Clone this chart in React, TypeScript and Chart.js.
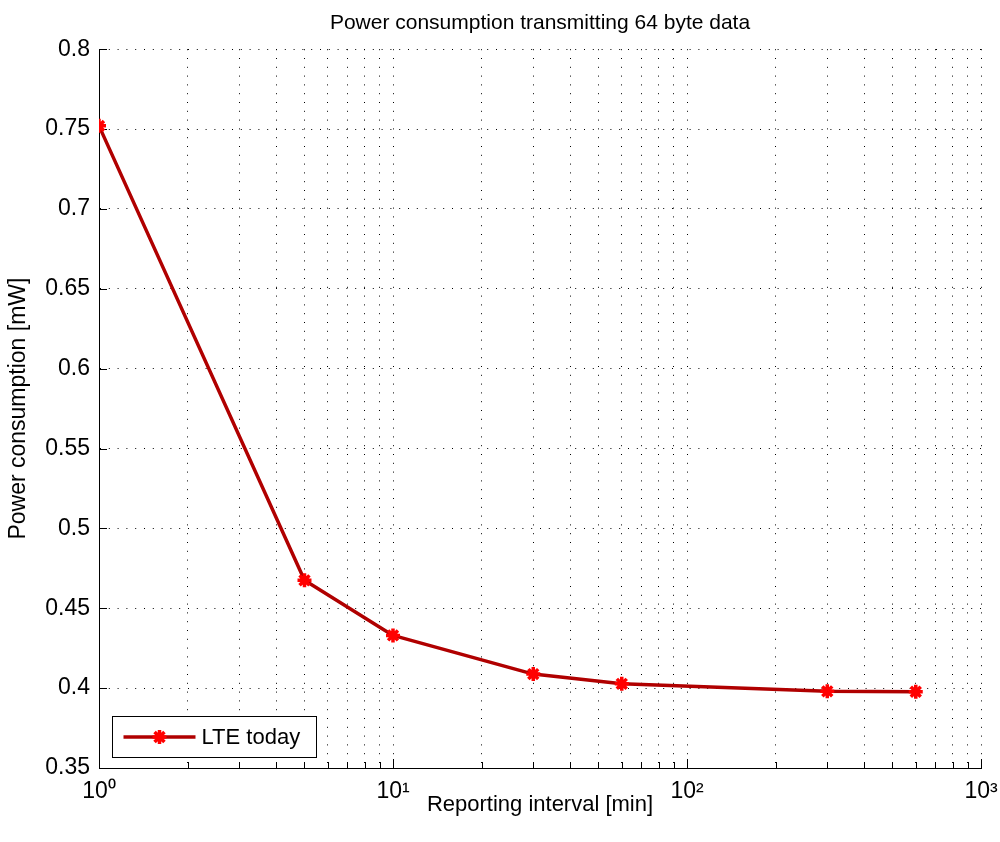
import React, { useEffect, useRef } from "react";
import { Chart, registerables } from "chart.js";

Chart.register(...registerables);

// ---- data ----
const chartTitle = "Power consumption transmitting 64 byte data";
const xAxisTitle = "Reporting interval [min]";
const yAxisTitle = "Power consumption [mW]";
const seriesLabel = "LTE today";
const reportingIntervals = [1, 5, 10, 30, 60, 300, 600];
const powerConsumption = [0.752, 0.4675, 0.433, 0.4088, 0.4027, 0.398, 0.3977];
const xTickValues = [
  1, 2, 3, 4, 5, 6, 7, 8, 9,
  10, 20, 30, 40, 50, 60, 70, 80, 90,
  100, 200, 300, 400, 500, 600, 700, 800, 900,
  1000,
];
const xMajorTickValues = [1, 10, 100, 1000];
const xMajorTickLabels = ["10⁰", "10¹", "10²", "10³"];
const yMin = 0.35;
const yMax = 0.8;
const yStep = 0.05;

// ---- style ----
const FONT = '"Liberation Sans", Arial, Helvetica, sans-serif';
const LINE_COLOR = "#b00000";
const MARKER_COLOR = "#ff0000";
const GRID_COLOR = "#000000";
const GRID_DASH = [1, 7.8];

const inwardTicks = {
  id: "inwardTicks",
  beforeDatasetsDraw(chart: any) {
    const { ctx, chartArea } = chart;
    const xs = chart.scales.x;
    const ys = chart.scales.y;
    ctx.save();
    ctx.strokeStyle = "#000";
    ctx.lineWidth = 1;
    ctx.beginPath();
    ys.ticks.forEach((t: any) => {
      const y = Math.round(ys.getPixelForValue(t.value)) + 0.5;
      ctx.moveTo(chartArea.left, y);
      ctx.lineTo(chartArea.left + 8, y);
    });
    xs.ticks.forEach((t: any) => {
      const x = Math.round(xs.getPixelForValue(t.value)) + 0.5;
      const len = xMajorTickValues.includes(t.value) ? 9 : 6;
      ctx.moveTo(x, chartArea.bottom);
      ctx.lineTo(x, chartArea.bottom - len);
    });
    ctx.stroke();
    ctx.restore();
  },
};

const insideLegend = {
  id: "insideLegend",
  afterDraw(chart: any) {
    const { ctx, chartArea } = chart;
    const ds = chart.data.datasets[0];
    const x0 = Math.round(chartArea.left + 13) + 0.5;
    const y1 = Math.round(chartArea.bottom - 11) + 0.5;
    const w = 204;
    const h = 41;
    const y0 = y1 - h;
    const cy = y0 + h / 2;
    ctx.save();
    ctx.fillStyle = "#ffffff";
    ctx.fillRect(x0, y0, w, h);
    ctx.strokeStyle = "#000";
    ctx.lineWidth = 1;
    ctx.strokeRect(x0, y0, w, h);
    ctx.strokeStyle = ds.borderColor;
    ctx.lineWidth = ds.borderWidth;
    ctx.beginPath();
    ctx.moveTo(x0 + 11, cy);
    ctx.lineTo(x0 + 83, cy);
    ctx.stroke();
    // marker (star)
    const mx = x0 + 47;
    const r = ds.pointRadius;
    ctx.strokeStyle = ds.pointBorderColor;
    ctx.lineWidth = ds.pointBorderWidth;
    ctx.beginPath();
    ctx.moveTo(mx, cy - r);
    ctx.lineTo(mx, cy + r);
    ctx.moveTo(mx - r, cy);
    ctx.lineTo(mx + r, cy);
    const d = r * Math.SQRT1_2;
    ctx.moveTo(mx - d, cy - d);
    ctx.lineTo(mx + d, cy + d);
    ctx.moveTo(mx - d, cy + d);
    ctx.lineTo(mx + d, cy - d);
    ctx.stroke();
    ctx.fillStyle = "#000";
    ctx.font = `22px ${FONT}`;
    ctx.textBaseline = "middle";
    ctx.textAlign = "left";
    ctx.fillText(ds.label, x0 + 89, cy + 1);
    ctx.restore();
  },
};

export default function App() {
  const canvasRef = useRef<HTMLCanvasElement | null>(null);

  useEffect(() => {
    document.body.style.margin = "0";
    const canvas = canvasRef.current;
    if (!canvas) return;
    const chart = new Chart(canvas, {
      type: "line",
      data: {
        labels: reportingIntervals,
        datasets: [
          {
            label: seriesLabel,
            data: reportingIntervals.map((x, i) => ({ x, y: powerConsumption[i] })),
            borderColor: LINE_COLOR,
            borderWidth: 3.5,
            tension: 0,
            borderJoinStyle: "round",
            pointStyle: "star",
            pointRadius: 7,
            pointBorderWidth: 3.5,
            pointBorderColor: MARKER_COLOR,
            pointBackgroundColor: MARKER_COLOR,
            fill: false,
          },
        ],
      },
      options: {
        animation: false,
        responsive: false,
        maintainAspectRatio: false,
        layout: { padding: { left: 0, right: 19, top: 0, bottom: 0 } },
        plugins: {
          legend: { display: false },
          tooltip: { enabled: false },
          title: {
            display: true,
            fullSize: false,
            text: chartTitle,
            color: "#000",
            font: { family: FONT, size: 21, weight: "normal" },
            padding: { top: 11, bottom: 13 },
          },
        },
        scales: {
          x: {
            type: "logarithmic",
            min: 1,
            max: 1000,
            afterBuildTicks(scale: any) {
              scale.ticks = xTickValues.map((v) => ({ value: v, major: xMajorTickValues.includes(v) }));
            },
            afterFit(scale: any) {
              scale.height = 74;
              scale.paddingLeft = 0;
              scale.paddingRight = 0;
            },
            ticks: {
              autoSkip: false,
              maxRotation: 0,
              minRotation: 0,
              padding: 10,
              color: "#000",
              font: { family: FONT, size: 23 },
              callback: (value: any) => {
                const idx = xMajorTickValues.indexOf(Number(value));
                return idx >= 0 ? xMajorTickLabels[idx] : "";
              },
            },
            grid: {
              color: GRID_COLOR,
              lineWidth: 1,
              drawTicks: false,
            },
            border: { display: true, color: "#000", width: 1, dash: GRID_DASH },
            title: {
              display: true,
              text: xAxisTitle,
              color: "#000",
              font: { family: FONT, size: 22 },
              padding: { top: 0, bottom: 24 },
            },
          },
          y: {
            type: "linear",
            min: yMin,
            max: yMax,
            afterFit(scale: any) {
              scale.width = 99;
            },
            ticks: {
              stepSize: yStep,
              padding: 9,
              color: "#000",
              font: { family: FONT, size: 23 },
              callback: (value: any) => Number(Number(value).toFixed(2)).toString(),
            },
            grid: {
              color: GRID_COLOR,
              lineWidth: 1,
              drawTicks: false,
            },
            border: { display: true, color: "#000", width: 1, dash: GRID_DASH },
            title: {
              display: true,
              text: yAxisTitle,
              color: "#000",
              font: { family: FONT, size: 23 },
              padding: { top: 5, bottom: 0 },
            },
          },
        },
      } as any,
      plugins: [inwardTicks, insideLegend],
    });
    return () => chart.destroy();
  }, []);

  return (
    <div style={{ position: "absolute", left: 0, top: 0, width: 1000, height: 842, background: "#fff" }}>
      <canvas ref={canvasRef} width={1000} height={842} style={{ width: 1000, height: 842, display: "block" }} />
    </div>
  );
}
